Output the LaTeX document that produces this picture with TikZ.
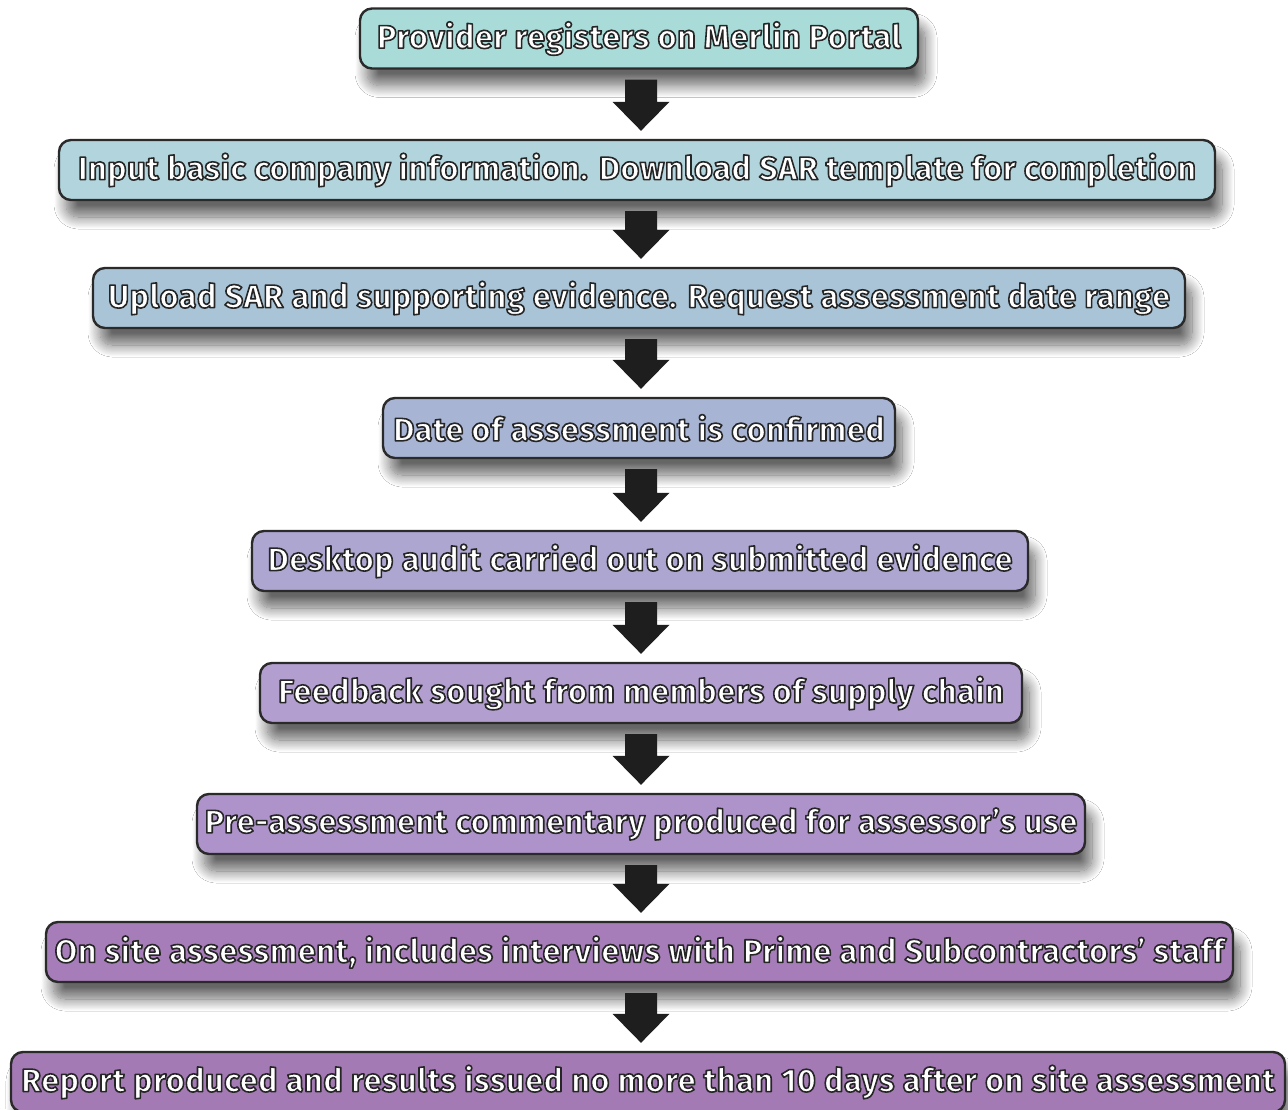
\documentclass[tikz,border=0pt]{standalone}
\usepackage{fontspec}
\newfontfamily\stepfont{Fira Sans Bold}[LetterSpace=1.5]
\usetikzlibrary{calc,shadows.blur}
\definecolor{ol}{HTML}{2A2A2A}
\definecolor{arrc}{HTML}{1E1E1E}
\definecolor{c1}{HTML}{A9DCD9}
\definecolor{c2}{HTML}{B2D4DC}
\definecolor{c3}{HTML}{A9C4D7}
\definecolor{c4}{HTML}{A7B4D4}
\definecolor{c5}{HTML}{ADA6D1}
\definecolor{c6}{HTML}{B29ECF}
\definecolor{c7}{HTML}{AD93C9}
\definecolor{c8}{HTML}{A67DB8}
\definecolor{c9}{HTML}{A47AB4}
\newcommand\otx[1]{\special{pdf:literal 0.15 0.15 0.15 RG 1.6 w 1 j 2 Tr}#1\special{pdf:literal 0 Tr}}
\tikzset{
  stepbox/.style={draw=ol, line width=2.4pt, rounded corners=12pt, minimum height=60pt,
    inner sep=0pt, text=white, font=\stepfont\fontsize{32.5}{35}\selectfont,
    blur shadow={shadow xshift=7pt, shadow yshift=-17pt, shadow blur radius=12pt,
      shadow blur steps=16, shadow opacity=60}}
}
\newcommand\flowarrow[2]{%
  \fill[arrc] ($(ax |- #1.south)+(-16,10)$) -- ($(ax |- #1.south)+(16,10)$)
    -- ($(ax |- #2.north)+(16,-37)$) -- ($(ax |- #2.north)+(28.5,-37)$)
    -- ($(ax |- #2.north)+(0,-8)$) -- ($(ax |- #2.north)+(-28.5,-37)$)
    -- ($(ax |- #2.north)+(-16,-37)$) -- cycle;}
\begin{document}
\begin{tikzpicture}[x=1pt,y=-1pt]
\useasboundingbox (0,0) rectangle (1288,1109);
\fill[white] (0,0) rectangle (1288,1109);
\coordinate (ax) at (641,0);
\node[stepbox, fill=c1, minimum width=558pt] (n1) at (639,38.5) {\otx{Provider registers on Merlin Portal}};
\node[stepbox, fill=c2, minimum width=1156pt] (n2) at (637,170) {\otx{Input basic company information. Download SAR template for completion}};
\node[stepbox, fill=c3, minimum width=1092pt] (n3) at (639,298) {\otx{Upload SAR and supporting evidence. Request assessment date range}};
\node[stepbox, fill=c4, minimum width=512pt] (n4) at (639,428) {\otx{Date of assessment is confirmed}};
\node[stepbox, fill=c5, minimum width=776pt] (n5) at (640,561) {\otx{Desktop audit carried out on submitted evidence}};
\node[stepbox, fill=c6, minimum width=762pt] (n6) at (641,693) {\otx{Feedback sought from members of supply chain}};
\node[stepbox, fill=c7, minimum width=888pt] (n7) at (641,824) {\otx{Pre-assessment commentary produced for assessor’s use}};
\node[stepbox, fill=c8, minimum width=1187pt] (n8) at (639.5,952) {\otx{On site assessment, includes interviews with Prime and Subcontractors’ staff}};
\node[stepbox, fill=c9, minimum width=1274pt] (n9) at (648,1082) {\otx{Report produced and results issued no more than 10 days after on site assessment}};
\flowarrow{n1}{n2}
\flowarrow{n2}{n3}
\flowarrow{n3}{n4}
\flowarrow{n4}{n5}
\flowarrow{n5}{n6}
\flowarrow{n6}{n7}
\flowarrow{n7}{n8}
\flowarrow{n8}{n9}
\end{tikzpicture}
\end{document}
